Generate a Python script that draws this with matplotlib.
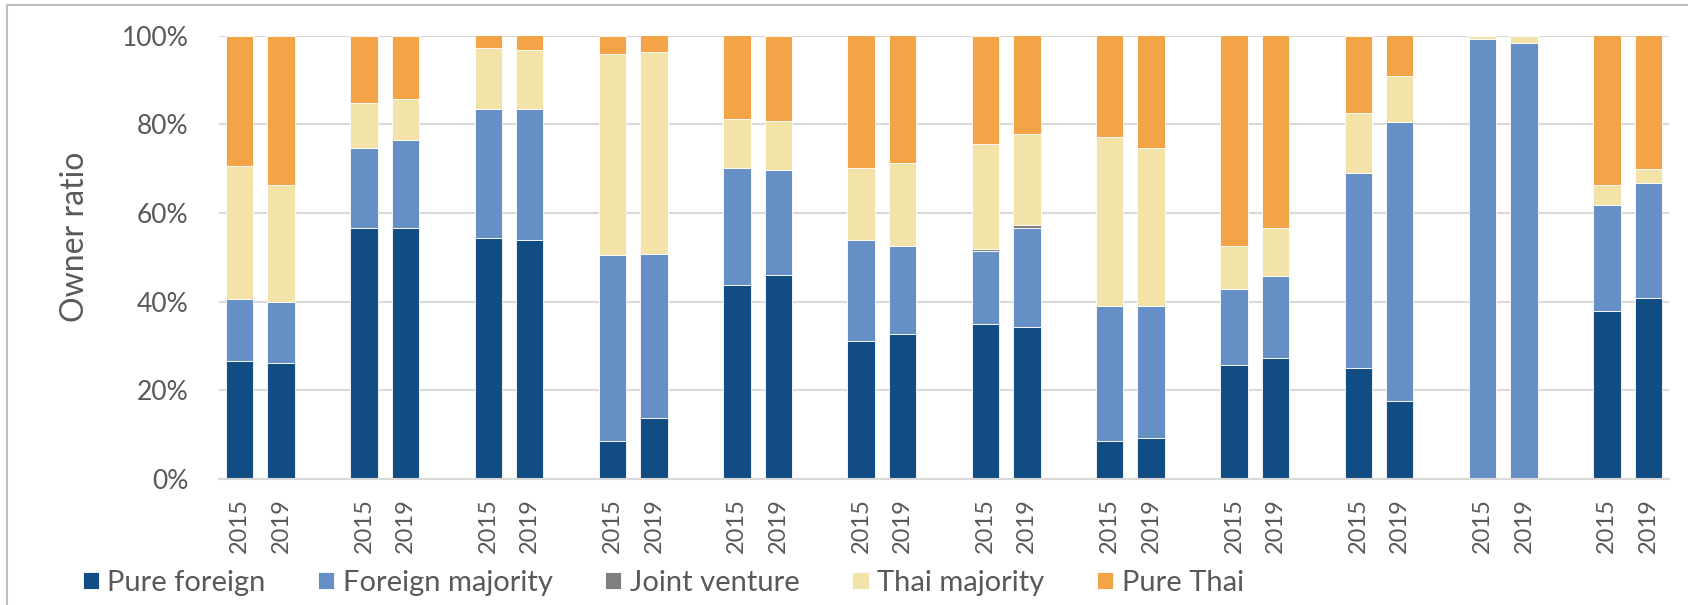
import matplotlib.pyplot as plt
from matplotlib.lines import Line2D
import numpy as np

plt.rcParams['font.family'] = ['Lato', 'DejaVu Sans']

years = ["2015", "2019"]
n_groups = 12

# shares in %, two bars (2015, 2019) per group
pure_foreign = [26.7, 26.2, 56.7, 56.5, 54.3, 53.9, 8.5, 13.8, 43.8, 45.9, 31.1, 32.6,
                34.9, 34.2, 8.5, 9.2, 25.6, 27.2, 25.0, 17.5, 0.0, 0.0, 37.8, 40.7]
foreign_majority = [13.8, 13.6, 17.9, 20.0, 29.1, 29.5, 41.9, 37.0, 26.4, 23.7, 22.8, 19.9,
                    16.4, 22.5, 30.4, 29.9, 17.2, 18.5, 44.1, 62.9, 99.1, 98.4, 23.9, 26.0]
joint_venture = [0, 0, 0, 0, 0, 0, 0, 0, 0, 0, 0, 0,
                 0.5, 0.6, 0, 0, 0, 0, 0, 0, 0, 0, 0, 0]
thai_majority = [30.0, 26.6, 10.2, 9.1, 13.7, 13.4, 45.5, 45.4, 10.9, 11.2, 16.2, 18.8,
                 23.8, 20.6, 38.3, 35.6, 9.8, 10.8, 13.5, 10.5, 0.9, 1.6, 4.5, 3.2]
pure_thai = list(100 - np.array(pure_foreign) - np.array(foreign_majority)
                 - np.array(joint_venture) - np.array(thai_majority))

series = [("Pure foreign", pure_foreign, "#114D82"),
          ("Foreign majority", foreign_majority, "#668FC6"),
          ("Joint venture", joint_venture, "#7F7F7F"),
          ("Thai majority", thai_majority, "#F4E3A9"),
          ("Pure Thai", pure_thai, "#F2A447")]

# each group takes 3 category slots: 2015, 2019, blank
x = np.array([3 * g + k for g in range(n_groups) for k in range(2)])
labels = [years[k] for g in range(n_groups) for k in range(2)]

fig = plt.figure(figsize=(16.88, 6.05), dpi=100)
ax = fig.add_axes([219 / 1688, 1 - 479 / 605, 1450 / 1688, 443.5 / 605])

bottom = np.zeros(len(x))
for name, vals, col in series:
    vals = np.array(vals) / 100.0
    ax.bar(x, vals, width=0.66, bottom=bottom, color=col, label=name,
           edgecolor="white", linewidth=0.6)
    bottom += vals

ax.set_xlim(-0.5, 34.5)
ax.set_ylim(0, 1)
ax.set_yticks(np.arange(0, 1.01, 0.2))
ax.set_yticklabels([f"{int(round(v * 100))}%" for v in np.arange(0, 1.01, 0.2)])
ax.set_xticks(x)
ax.set_xticklabels(labels, rotation=90)
ax.tick_params(axis="y", length=0, pad=22, labelsize=19, labelcolor="#595959")
ax.tick_params(axis="x", length=0, pad=14, labelsize=17, labelcolor="#595959")

ax.grid(axis="y", color="#D9D9D9", linewidth=1.5)
ax.set_axisbelow(True)
for s in ["top", "right", "left"]:
    ax.spines[s].set_visible(False)
ax.spines["bottom"].set_color("#D9D9D9")
ax.spines["bottom"].set_linewidth(1.5)

ax.set_ylabel("Owner ratio", fontsize=23, color="#595959", va="center")
ax.yaxis.set_label_coords((75 - 219) / 1450, (479 - 236.7) / 443.5)

leg = fig.legend(loc="center left", bbox_to_anchor=(68 / 1688, 1 - 583 / 605), ncol=5,
                 frameon=False, fontsize=21, handlelength=0.55, handleheight=0.55,
                 handletextpad=0.3, columnspacing=1.8, borderpad=0)
for t in leg.get_texts():
    t.set_color("#595959")

# chart area border (top and left edges visible)
fig.add_artist(Line2D([7 / 1688, 7 / 1688], [0, 1 - 5 / 605], transform=fig.transFigure,
                      color="#BFBFBF", linewidth=1.5))
fig.add_artist(Line2D([7 / 1688, 1], [1 - 5 / 605, 1 - 5 / 605], transform=fig.transFigure,
                      color="#BFBFBF", linewidth=1.5))

fig.savefig("out.png", dpi=100)
